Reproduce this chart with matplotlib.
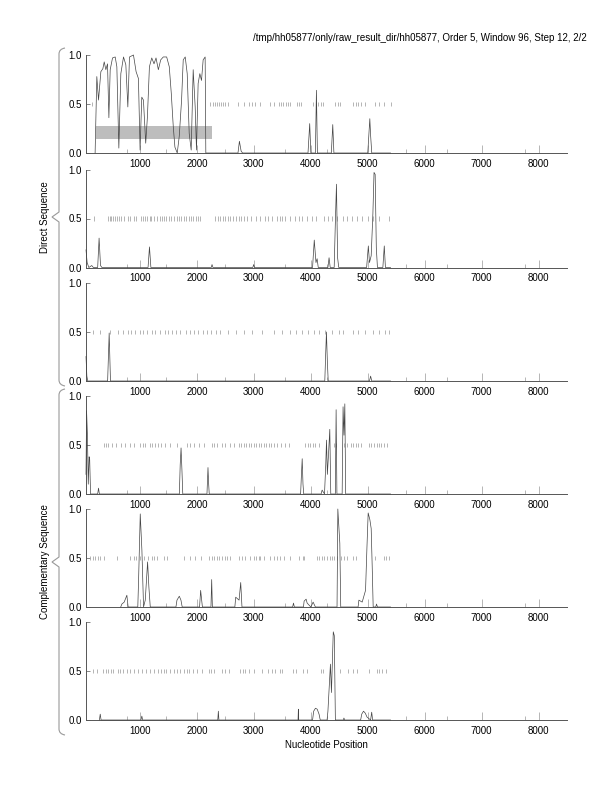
import matplotlib
matplotlib.use("Agg")
import matplotlib.pyplot as plt
from matplotlib.patches import Rectangle, PathPatch
from matplotlib.path import Path

plt.rcParams['font.family'] = ['Liberation Sans', 'DejaVu Sans']

title = "/tmp/hh05877/only/raw_result_dir/hh05877, Order 5, Window 96, Step 12, 2/2"
xlabel = "Nucleotide Position"
group_labels = ["Direct Sequence", "Complementary Sequence"]
xticks = [1000, 2000, 3000, 4000, 5000, 6000, 7000, 8000]
minor_ticks = [770, 1450, 2490, 3550, 4290, 5670, 6400, 7770]
yticks = [0.0, 0.5, 1.0]

# highlighted region in the first panel (start, end, low, high)
box1 = (230, 2270, 0.14, 0.28)

# curves: (position, value)
curve1 = [(210, 0), (240, 0.78), (270, 0.54), (311, 0.83), (346, 0.86), (370, 0.93), (399, 0.85),
          (428, 0.91), (452, 0.36), (475, 0.85), (516, 0.97), (563, 0.98), (592, 0.88), (627, 0.05),
          (662, 0.81), (709, 0.98), (750, 0.90), (785, 0.47), (814, 0.98), (884, 1.0), (930, 0.83),
          (971, 0.76), (1000, 0.03), (1030, 0.57), (1059, 0.54), (1099, 0.10), (1129, 0.37),
          (1164, 0.88), (1205, 0.97), (1245, 0.91), (1280, 0.97), (1321, 0.85), (1362, 0.95),
          (1408, 0.98), (1467, 0.98), (1513, 0.88), (1548, 0.61), (1583, 0.27), (1612, 0.06),
          (1653, 0.0), (1688, 0.17), (1729, 0.54), (1758, 0.95), (1793, 0.98), (1828, 0.81),
          (1863, 0.20), (1898, 0.03), (1933, 0.85), (1968, 0.47), (1991, 0.03), (2020, 0.71),
          (2050, 0.81), (2079, 0.74), (2108, 0.95), (2143, 0.98), (2155, 0.0),
          (2720, 0), (2745, 0.12), (2775, 0.02), (2800, 0),
          (3950, 0), (3980, 0.30), (4000, 0), (4080, 0), (4098, 0.64), (4115, 0),
          (4360, 0), (4385, 0.29), (4405, 0), (5000, 0), (5036, 0.35), (5050, 0.18), (5070, 0),
          (5400, 0)]
curve2 = [(50, 0.18), (70, 0.05), (100, 0), (150, 0.02), (180, 0), (255, 0), (280, 0.30), (305, 0.02),
          (330, 0), (1140, 0), (1165, 0.21), (1190, 0), (2250, 0), (2264, 0.03), (2280, 0),
          (2980, 0), (2996, 0.03), (3010, 0), (4030, 0), (4060, 0.28), (4090, 0.05), (4110, 0.09),
          (4130, 0), (4300, 0), (4320, 0.10), (4340, 0), (4410, 0), (4430, 0.45), (4450, 0.85),
          (4470, 0.1), (4490, 0), (4980, 0), (5010, 0.22), (5030, 0.05), (5060, 0.12), (5090, 0.55),
          (5110, 0.97), (5130, 0.95), (5150, 0.2), (5170, 0), (5265, 0), (5290, 0.22), (5310, 0),
          (5400, 0)]
curve3 = [(50, 0.25), (65, 0.05), (80, 0), (430, 0), (457, 0.49), (480, 0), (4245, 0), (4262, 0.3),
          (4274, 0.50), (4290, 0.2), (4305, 0), (5030, 0), (5050, 0.05), (5070, 0), (5400, 0)]
curve4 = [(50, 0.2), (60, 0.85), (75, 0.6), (90, 0.1), (105, 0.38), (115, 0.35), (130, 0.0),
          (255, 0), (270, 0.06), (285, 0), (1690, 0), (1705, 0.3), (1720, 0.47), (1735, 0.25),
          (1750, 0), (2175, 0), (2193, 0.27), (2205, 0.1), (2215, 0), (3820, 0), (3835, 0.2),
          (3848, 0.36), (3862, 0.1), (3875, 0), (4180, 0), (4198, 0.04), (4240, 0), (4262, 0.3),
          (4275, 0.55), (4290, 0.2), (4310, 0.4), (4333, 0.66), (4350, 0), (4430, 0), (4444, 0.86),
          (4458, 0), (4550, 0), (4566, 0.89), (4582, 0.6), (4597, 0.92), (4612, 0), (5400, 0)]
curve5 = [(660, 0), (680, 0.03), (721, 0.05), (768, 0.12), (790, 0), (960, 0), (974, 0.28),
          (1003, 0.95), (1032, 0.58), (1061, 0), (1091, 0.07), (1132, 0.46), (1155, 0.2), (1179, 0),
          (1630, 0), (1648, 0.07), (1689, 0.11), (1718, 0.07), (1740, 0), (2045, 0), (2064, 0.17),
          (2082, 0.07), (2095, 0), (2245, 0), (2258, 0.28), (2270, 0), (2665, 0), (2680, 0.10),
          (2739, 0.07), (2768, 0.25), (2790, 0), (3680, 0), (3695, 0.04), (3710, 0), (3870, 0),
          (3882, 0.06), (3917, 0.08), (3935, 0.04), (4000, 0), (4040, 0.05), (4080, 0), (4460, 0),
          (4474, 1.0), (4509, 0.65), (4525, 0), (4830, 0), (4844, 0.07), (4902, 0.05), (4961, 0.17),
          (4985, 0.6), (5007, 0.96), (5037, 0.89), (5060, 0.80), (5078, 0.41), (5095, 0), (5140, 0),
          (5154, 0.03), (5170, 0), (5400, 0)]
curve6 = [(285, 0), (300, 0.06), (315, 0), (1015, 0), (1031, 0.04), (1045, 0), (2365, 0),
          (2375, 0.09), (2385, 0), (3775, 0), (3781, 0.11), (3787, 0), (4030, 0), (4050, 0.09),
          (4081, 0.12), (4112, 0.11), (4144, 0.06), (4165, 0), (4285, 0), (4300, 0.09), (4344, 0.57),
          (4362, 0.28), (4394, 0.90), (4412, 0.86), (4431, 0), (4570, 0), (4581, 0.02), (4595, 0),
          (4875, 0), (4894, 0.06), (4925, 0.09), (4956, 0.07), (4987, 0.03), (5050, 0), (5069, 0.08),
          (5085, 0), (5400, 0)]

# marks along the 0.5 line
marks1 = [150, 2230, 2280, 2310, 2350, 2390, 2430, 2460, 2490, 2545, 2715, 2820, 2920, 2965, 3025,
          3115, 3290, 3350, 3440, 3480, 3510, 3570, 3600, 3640, 3760, 3790, 3830, 4040, 4130, 4170,
          4215, 4430, 4475, 4510, 4745, 4785, 4825, 4875, 4960, 5120, 5195, 5285, 5400]
marks2 = [199, 428, 463, 486, 522, 563, 592, 622, 669, 710, 780, 827, 897, 932, 1014, 1050, 1091,
          1120, 1167, 1196, 1249, 1296, 1343, 1378, 1413, 1460, 1501, 1542, 1601, 1648, 1683, 1718,
          1765, 1806, 1853, 1895, 1930, 1977, 2012, 2058, 2322, 2363, 2410, 2451, 2498, 2539, 2586,
          2633, 2686, 2733, 2774, 2821, 2880, 2950, 3038, 3114, 3202, 3243, 3320, 3408, 3455, 3496,
          3554, 3642, 3730, 3789, 3847, 3935, 4023, 4082, 4228, 4300, 4380, 4460, 4560, 4640, 4720,
          4810, 4900, 5000, 5090, 5200, 5380]
marks3 = [176, 299, 475, 616, 704, 792, 844, 915, 1003, 1055, 1126, 1214, 1266, 1354, 1442, 1495,
          1566, 1636, 1706, 1812, 1882, 1952, 2023, 2111, 2181, 2252, 2339, 2410, 2551, 2691, 2832,
          2973, 3149, 3360, 3500, 3641, 3747, 3852, 3958, 4063, 4151, 4257, 4380, 4486, 4573, 4732,
          4837, 4960, 5084, 5189, 5295, 5365]
marks4 = [358, 405, 428, 504, 580, 662, 739, 827, 897, 1003, 1050, 1091, 1167, 1208, 1267, 1308,
          1366, 1442, 1519, 1648, 1824, 1882, 1941, 2029, 2117, 2264, 2305, 2351, 2439, 2498, 2574,
          2645, 2733, 2780, 2821, 2868, 2909, 2950, 2997, 3044, 3085, 3132, 3173, 3220, 3267, 3308,
          3349, 3408, 3478, 3554, 3613, 3905, 3946, 3993, 4040, 4081, 4140, 4404, 4450, 4580, 4638,
          4697, 4744, 4785, 4826, 4873, 5019, 5060, 5107, 5154, 5195, 5236, 5283, 5330]
marks5 = [124, 170, 211, 258, 299, 370, 592, 827, 885, 932, 1003, 1061, 1132, 1208, 1249, 1296,
          1413, 1472, 1765, 1871, 1971, 2070, 2205, 2264, 2305, 2351, 2392, 2439, 2486, 2527, 2574,
          2733, 2792, 2850, 2938, 2997, 3044, 3085, 3114, 3173, 3279, 3349, 3408, 3466, 3537, 3642,
          3789, 3865, 3876, 4111, 4152, 4198, 4239, 4286, 4333, 4374, 4415, 4462, 4521, 4580, 4627,
          4744, 4785, 5119, 5283, 5324, 5371]
marks6 = [175, 238, 350, 394, 444, 488, 531, 613, 644, 694, 769, 819, 894, 956, 1031, 1100, 1175,
          1238, 1313, 1375, 1413, 1456, 1531, 1594, 1644, 1694, 1769, 1831, 1863, 1925, 2006, 2081,
          2206, 2238, 2300, 2438, 2488, 2563, 2750, 2800, 2850, 2906, 3000, 3144, 3256, 3313, 3363,
          3456, 3488, 3694, 3738, 3863, 3925, 4175, 4219, 4331, 4506, 4644, 4738, 4819, 5019, 5156,
          5206, 5256, 5319]

curves = [curve1, curve2, curve3, curve4, curve5, curve6]
marks = [marks1, marks2, marks3, marks4, marks5, marks6]

W, H = 612, 792
fig = plt.figure(figsize=(W / 100, H / 100), dpi=100)

left_px, right_px = 86, 567
bottoms_px = [153, 267.5, 381, 494, 607, 720]
height_px = 98
spine_col = '#555555'

for i in range(6):
    ax = fig.add_axes([left_px / W, 1 - bottoms_px[i] / H, (right_px - left_px) / W, height_px / H])
    ax.set_xlim(50, 8500)
    ax.set_ylim(0, 1.0)
    if i == 0:
        bx0, bx1, by0, by1 = box1
        ax.add_patch(Rectangle((bx0, by0), bx1 - bx0, by1 - by0, facecolor='#bdbdbd',
                               edgecolor='none', zorder=1))
    xs = [p[0] for p in curves[i]]
    ys = [p[1] for p in curves[i]]
    ax.plot(xs, ys, color='#444444', lw=0.5, zorder=3, clip_on=False)
    ax.vlines(marks[i], 0.475, 0.525, color='#a0a0a0', lw=0.55, zorder=2)

    for s in ['top', 'right']:
        ax.spines[s].set_visible(False)
    for s in ['left', 'bottom']:
        ax.spines[s].set_color(spine_col)
        ax.spines[s].set_linewidth(0.7)
    ax.set_xticks(xticks)
    ax.set_xticklabels([str(t) for t in xticks])
    ax.set_xticks(minor_ticks, minor=True)
    ax.set_yticks(yticks)
    ax.set_yticklabels(['%.1f' % t for t in yticks])
    ax.tick_params(axis='x', which='major', direction='in', length=6, width=0.5,
                   colors='#999999', labelcolor='black', labelsize=7, pad=4)
    ax.tick_params(axis='x', which='minor', direction='in', length=3, width=0.5, colors='#999999')
    ax.tick_params(axis='y', direction='in', length=3, width=0.5, colors=spine_col,
                   labelcolor='black', labelsize=7, pad=3)

# title and x label
fig.text(587 / W, 1 - 38 / H, title, ha='right', va='center', fontsize=7)
fig.text((left_px + right_px) / 2 / W, 1 - 745 / H, xlabel, ha='center', va='center', fontsize=7)


# braces on the left
def brace(y_top, y_bot):
    ym = (y_top + y_bot) / 2
    xl, xr, xt = 59, 65, 52
    verts = [(xr, y_top), (xl, y_top + 1), (xl, y_top + 6),
             (xl, ym - 5), (xt, ym), (xl, ym + 5),
             (xl, y_bot - 6), (xl, y_bot - 1), (xr, y_bot)]
    codes = [Path.MOVETO, Path.CURVE3, Path.CURVE3,
             Path.LINETO, Path.LINETO, Path.LINETO,
             Path.LINETO, Path.CURVE3, Path.CURVE3]
    verts = [(x / W, 1 - y / H) for x, y in verts]
    fig.add_artist(PathPatch(Path(verts, codes), transform=fig.transFigure,
                             facecolor='none', edgecolor='#999999', lw=0.8))
    return ym


ym1 = brace(48, 386)
ym2 = brace(389, 735)
fig.text(45 / W, 1 - ym1 / H, group_labels[0], rotation=90, ha='center', va='center', fontsize=7)
fig.text(45 / W, 1 - ym2 / H, group_labels[1], rotation=90, ha='center', va='center', fontsize=7)

fig.savefig('out.png', dpi=100)
